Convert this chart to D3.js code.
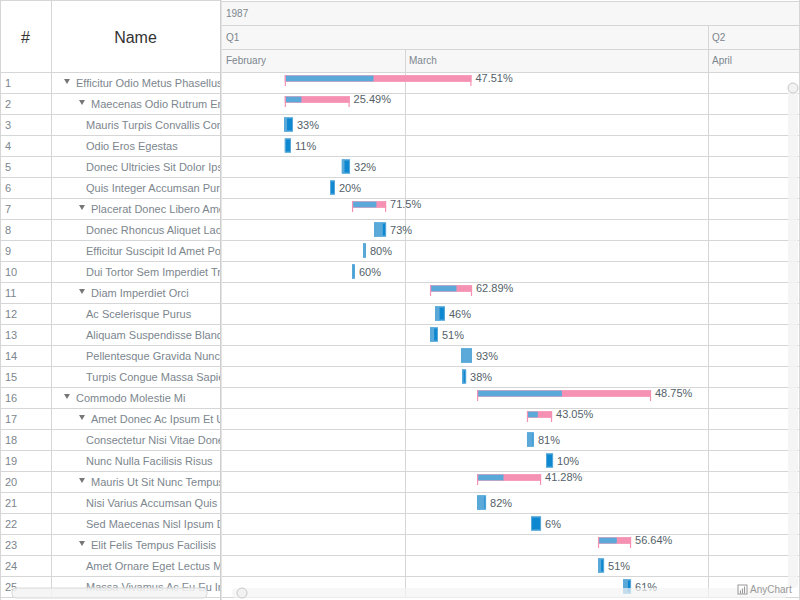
<!DOCTYPE html>
<html><head><meta charset="utf-8">
<script src="https://cdn.jsdelivr.net/npm/d3@7/dist/d3.min.js"></script>
<style>
body{margin:0;background:#fff;overflow:hidden}
svg{display:block;font-family:Arial,"Liberation Sans",Helvetica,sans-serif}
</style></head>
<body><svg id="c" width="800" height="600"></svg>
<script>
// ---------- data ----------
const rowNumbers = d3.range(1, 26);
const names = [
  "Efficitur Odio Metus Phasellus", "Maecenas Odio Rutrum Erat", "Mauris Turpis Convallis Commodo",
  "Odio Eros Egestas", "Donec Ultricies Sit Dolor Ipsum", "Quis Integer Accumsan Purus",
  "Placerat Donec Libero Amet", "Donec Rhoncus Aliquet Lacus", "Efficitur Suscipit Id Amet Porta",
  "Dui Tortor Sem Imperdiet Tristique", "Diam Imperdiet Orci", "Ac Scelerisque Purus",
  "Aliquam Suspendisse Blandit", "Pellentesque Gravida Nunc", "Turpis Congue Massa Sapien",
  "Commodo Molestie Mi", "Amet Donec Ac Ipsum Et Ut", "Consectetur Nisi Vitae Donec",
  "Nunc Nulla Facilisis Risus", "Mauris Ut Sit Nunc Tempus", "Nisi Varius Accumsan Quis",
  "Sed Maecenas Nisl Ipsum Dolor", "Elit Felis Tempus Facilisis", "Amet Ornare Eget Lectus Mi",
  "Massa Vivamus Ac Eu Eu In"
];
const levels = [0,1,2,2,2,2,1,2,2,2,1,2,2,2,2,0,1,2,2,1,2,2,1,2,2];
const starts = [
  "1987-02-16T17:00","1987-02-16T17:00","1987-02-16T15:00","1987-02-16T17:00","1987-02-22T13:00",
  "1987-02-21T08:00","1987-02-23T14:00","1987-02-25T20:00","1987-02-24T17:00","1987-02-23T14:00",
  "1987-03-03T13:30","1987-03-04T01:45","1987-03-03T13:30","1987-03-06T17:30","1987-03-06T20:00",
  "1987-03-08T09:00","1987-03-13T11:30","1987-03-13T11:30","1987-03-15T10:15","1987-03-08T09:00",
  "1987-03-08T09:00","1987-03-13T21:30","1987-03-20T18:00","1987-03-20T18:00","1987-03-23T07:15"
];
const ends = [
  "1987-03-07T19:00","1987-02-23T08:00","1987-02-17T13:00","1987-02-17T08:00","1987-02-23T09:00",
  "1987-02-21T20:00","1987-02-27T01:30","1987-02-27T01:30","1987-02-25T00:00","1987-02-23T21:00",
  "1987-03-07T20:30","1987-03-05T02:00","1987-03-04T09:00","1987-03-07T20:30","1987-03-07T06:00",
  "1987-03-26T04:00","1987-03-16T01:00","1987-03-14T04:45","1987-03-16T03:30","1987-03-14T22:00",
  "1987-03-09T07:00","1987-03-14T22:00","1987-03-24T03:00","1987-03-21T08:45","1987-03-24T03:00"
];
const progress = [47.51,25.49,33,11,32,20,71.5,73,80,60,62.89,46,51,93,38,48.75,43.05,81,10,41.28,82,6,56.64,51,61];
const viewStart = "1987-02-10T06:39";
const viewEnd = "1987-04-10T09:50";
const yearLabel = "1987";

// ---------- layout ----------
const W = 800, H = 600;
const gridW = 220, numW = 51, tlX = 222;
const headH = 72, rowH = 21;
const hdr = [1, 25, 49, 72];
const lineC = "#d6d6d6", textC = "#7c868e", labelC = "#545f69";
const cBlue = "#5aa9d8", cDark = "#0f88d2", cPink = "#f592b4";

const parse = s => new Date(s + ":00Z");
const svg = d3.select("#c");
const x = d3.scaleUtc().domain([parse(viewStart), parse(viewEnd)]).range([tlX, W]);
const y = d3.scaleBand().domain(rowNumbers).range([headH, headH + rowH * rowNumbers.length]).padding(0);

const rows = rowNumbers.map((n, i) => ({
  n, name: names[i], level: levels[i],
  parent: i < levels.length - 1 && levels[i + 1] > levels[i],
  s: parse(starts[i]), e: parse(ends[i]), p: progress[i]
}));

svg.append("rect").attr("width", W).attr("height", H).attr("fill", "#fff");

const defs = svg.append("defs");
defs.append("clipPath").attr("id", "nameClip").append("rect")
  .attr("x", numW).attr("y", 0).attr("width", gridW - numW).attr("height", H);
defs.append("clipPath").attr("id", "tlClip").append("rect")
  .attr("x", tlX).attr("y", 0).attr("width", W - tlX).attr("height", H);

// ---------- timeline header ----------
const tl = svg.append("g").attr("clip-path", "url(#tlClip)");
tl.append("rect").attr("x", tlX).attr("y", hdr[0]).attr("width", W - tlX).attr("height", hdr[3] - hdr[0]).attr("fill", "#f7f7f7");
hdr.forEach(v => tl.append("line").attr("x1", tlX).attr("x2", W).attr("y1", v + .5).attr("y2", v + .5).attr("stroke", lineC));

const dom = x.domain();
const months = d3.utcMonth.range(d3.utcMonth.floor(dom[0]), dom[1]);
const quarters = months.filter(m => m.getUTCMonth() % 3 === 0);
const monthFmt = d3.utcFormat("%B");

// year
tl.append("text").attr("x", tlX + 4).attr("y", (hdr[0] + hdr[1]) / 2).attr("dy", "0.35em")
  .attr("font-size", 10).attr("fill", textC).text(yearLabel);
// quarters
const qStarts = [d3.utcMonth.floor(dom[0])].concat(quarters.filter(q => q > dom[0]));
qStarts.forEach(q => {
  const qx = Math.max(tlX, x(q));
  if (x(q) > tlX) tl.append("line").attr("x1", Math.round(qx) + .5).attr("x2", Math.round(qx) + .5).attr("y1", hdr[1]).attr("y2", hdr[2]).attr("stroke", lineC);
  tl.append("text").attr("x", qx + 4).attr("y", (hdr[1] + hdr[2]) / 2).attr("dy", "0.35em")
    .attr("font-size", 10).attr("fill", textC).text("Q" + (Math.floor(q.getUTCMonth() / 3) + 1));
});
// months
const mStarts = [d3.utcMonth.floor(dom[0])].concat(months.filter(m => m > dom[0]));
mStarts.forEach(m => {
  const mx = Math.max(tlX, x(m));
  if (x(m) > tlX) tl.append("line").attr("x1", Math.round(mx) + .5).attr("x2", Math.round(mx) + .5).attr("y1", hdr[2]).attr("y2", y.range()[1]).attr("stroke", lineC);
  tl.append("text").attr("x", mx + 4).attr("y", (hdr[2] + hdr[3]) / 2).attr("dy", "0.35em")
    .attr("font-size", 10).attr("fill", textC).text(monthFmt(m));
});

// row lines across whole width
rows.forEach(r => {
  const yy = y(r.n) + rowH + .5;
  svg.append("line").attr("x1", 0).attr("x2", W).attr("y1", yy).attr("y2", yy).attr("stroke", lineC);
});

// ---------- bars ----------
const bars = tl.append("g");
rows.forEach(r => {
  const x0 = x(r.s), x1 = x(r.e), top = y(r.n);
  const px = x0 + (x1 - x0) * r.p / 100;
  if (r.parent) {
    const by = top + 3, bh = 7;
    bars.append("rect").attr("x", x0).attr("y", by).attr("width", x1 - x0).attr("height", bh).attr("fill", cPink);
    bars.append("rect").attr("x", x0).attr("y", by).attr("width", px - x0).attr("height", bh).attr("fill", cBlue);
    bars.append("rect").attr("x", x0 + .5).attr("y", by + .5).attr("width", x1 - x0 - 1).attr("height", bh - 1)
      .attr("fill", "none").attr("stroke", "#f7a6c2").attr("stroke-width", 1).attr("opacity", .6);
    [x0 + .5, x1 - .5].forEach(tx => bars.append("line").attr("x1", tx).attr("x2", tx)
      .attr("y1", by).attr("y2", by + 11).attr("stroke", cPink).attr("stroke-width", 1.2));
    bars.append("text").attr("x", x1 + 4).attr("y", by + bh / 2).attr("dy", "0.35em")
      .attr("font-size", 11).attr("fill", labelC).text(r.p + "%");
  } else {
    const bh = 14, by = top + (rowH - bh) / 2;
    bars.append("rect").attr("x", x0).attr("y", by).attr("width", x1 - x0).attr("height", bh).attr("fill", cDark);
    bars.append("rect").attr("x", x0).attr("y", by).attr("width", px - x0).attr("height", bh).attr("fill", cBlue);
    bars.append("rect").attr("x", x0 + .5).attr("y", by + .5).attr("width", Math.max(0, x1 - x0 - 1)).attr("height", bh - 1)
      .attr("fill", "none").attr("stroke", cBlue).attr("stroke-width", 1);
    bars.append("text").attr("x", x1 + 4).attr("y", top + rowH / 2 + .5).attr("dy", "0.35em")
      .attr("font-size", 11).attr("fill", labelC).text(r.p + "%");
  }
});

// ---------- data grid ----------
const g = svg.append("g");
g.append("line").attr("x1", numW + .5).attr("x2", numW + .5).attr("y1", 0).attr("y2", y.range()[1]).attr("stroke", lineC);
g.append("line").attr("x1", 0).attr("x2", gridW).attr("y1", headH + .5).attr("y2", headH + .5).attr("stroke", lineC);
g.append("line").attr("x1", 0).attr("x2", gridW).attr("y1", .5).attr("y2", .5).attr("stroke", lineC);
g.append("line").attr("x1", .5).attr("x2", .5).attr("y1", 0).attr("y2", H).attr("stroke", lineC);
g.append("text").attr("x", numW / 2).attr("y", 37).attr("dy", "0.35em").attr("text-anchor", "middle")
  .attr("font-size", 16).attr("fill", "#333").text("#");
g.append("text").attr("x", (numW + gridW) / 2).attr("y", 37).attr("dy", "0.35em").attr("text-anchor", "middle")
  .attr("font-size", 16).attr("fill", "#333").text("Name");

const nameG = g.append("g").attr("clip-path", "url(#nameClip)");
rows.forEach(r => {
  const cy = y(r.n) + rowH / 2 + .5;
  g.append("text").attr("x", 5).attr("y", cy).attr("dy", "0.35em").attr("font-size", 11).attr("fill", textC).text(r.n);
  const tx = r.parent ? 61 + r.level * 15 + 15 : 56 + r.level * 15;
  if (r.parent) {
    const ax = tx - 12, ay = y(r.n) + 7;
    nameG.append("path").attr("d", `M${ax},${ay}L${ax + 6},${ay}L${ax + 3},${ay + 5}Z`).attr("fill", "#777");
  }
  nameG.append("text").attr("x", tx).attr("y", cy).attr("dy", "0.35em").attr("font-size", 11).attr("fill", textC).text(r.name);
});

// splitter
svg.append("rect").attr("x", gridW).attr("y", 0).attr("width", tlX - gridW).attr("height", H).attr("fill", "#e4e4e4");
svg.append("line").attr("x1", gridW + .5).attr("x2", gridW + .5).attr("y1", 0).attr("y2", H).attr("stroke", "#cfcfcf");
svg.append("line").attr("x1", W - .5).attr("x2", W - .5).attr("y1", 0).attr("y2", H).attr("stroke", lineC);

// ---------- scrollbars ----------
svg.append("rect").attr("x", 12).attr("y", 588).attr("width", 195).attr("height", 10).attr("rx", 4)
  .attr("fill", "#f3f3f3").attr("fill-opacity", .85).attr("stroke", "#d8d8d8");
svg.append("rect").attr("x", 232).attr("y", 588).attr("width", 556).attr("height", 10).attr("rx", 4)
  .attr("fill", "#f3f3f3").attr("fill-opacity", .7);
svg.append("circle").attr("cx", 242).attr("cy", 593).attr("r", 5).attr("fill", "#f2f2f2").attr("stroke", "#c8c8c8");
svg.append("rect").attr("x", 788).attr("y", 84).attr("width", 10).attr("height", 504).attr("rx", 4)
  .attr("fill", "#f3f3f3").attr("fill-opacity", .85);
svg.append("circle").attr("cx", 793).attr("cy", 88).attr("r", 5).attr("fill", "#f2f2f2").attr("stroke", "#c8c8c8");

// credits
const cr = svg.append("g").attr("transform", "translate(738,584)");
cr.append("rect").attr("x", 0).attr("y", 1).attr("width", 9).attr("height", 9).attr("fill", "none").attr("stroke", "#999");
[[2,6,1,3],[4,4,1,5],[6,2,1,7]].forEach(b => cr.append("rect").attr("x", b[0]).attr("y", b[1] + 0.5).attr("width", b[2]).attr("height", b[3]).attr("fill", "#999"));
cr.append("text").attr("x", 12).attr("y", 5.5).attr("dy", "0.35em").attr("font-size", 10).attr("fill", "#999").text("AnyChart");
</script>
</body></html>
